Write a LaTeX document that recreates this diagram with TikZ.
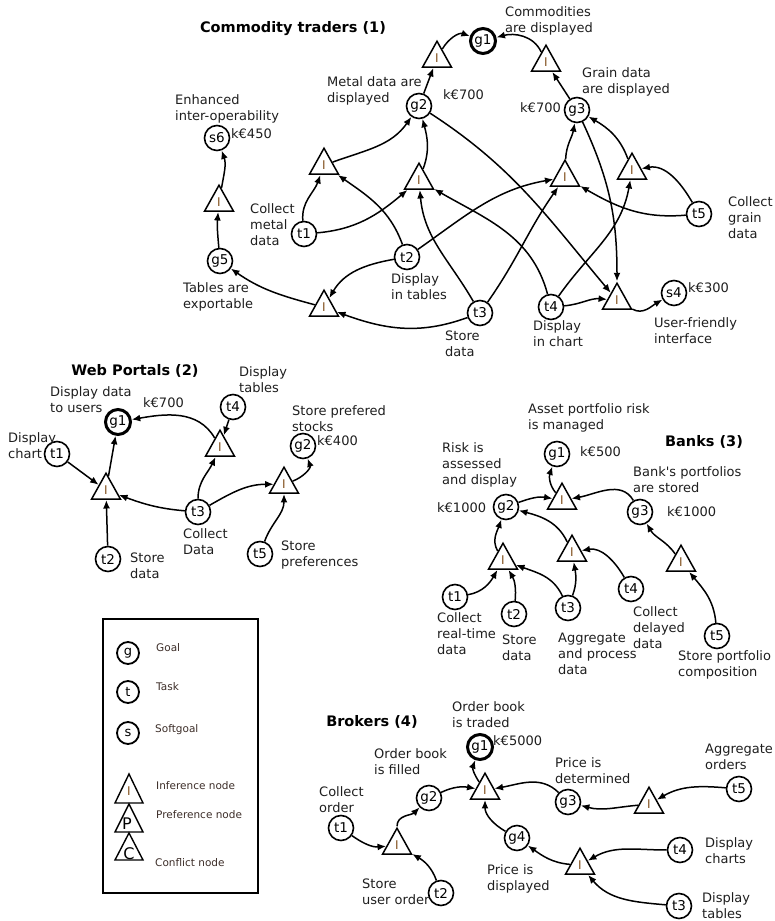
\documentclass[tikz,border=0pt]{standalone}
\usepackage{fontspec}
\setmainfont{DejaVu Sans}
\usetikzlibrary{arrows.meta,shapes.geometric}
\definecolor{inkI}{RGB}{130,80,30}
\definecolor{lbltxt}{RGB}{30,30,30}
\definecolor{legtxt}{RGB}{60,45,40}

\tikzset{
  ent/.style={circle, draw, line width=1.6pt, minimum size=25pt, inner sep=0pt,
    font=\fontsize{13.5}{14}\selectfont},
  mainent/.style={ent, line width=3pt},
  infer/.style={isosceles triangle, shape border rotate=90, isosceles triangle stretches,
    minimum width=29pt, minimum height=26pt, inner sep=0pt, draw, line width=1.5pt,
    font=\fontsize{12}{12}\selectfont, text=inkI, anchor=lower side},
  lbl/.style={anchor=north west, align=left, inner sep=0pt, text=lbltxt,
    font=\fontsize{13}{16}\selectfont},
  cost/.style={anchor=west, inner sep=0pt, text=lbltxt, font=\fontsize{13}{16}\selectfont},
  ttl/.style={inner sep=0pt, font=\fontsize{14.5}{16}\selectfont\bfseries},
  link/.style={line width=1.5pt, -{Latex[length=8.5pt,width=7pt]}},
  legent/.style={circle, draw, line width=1.8pt, minimum size=22pt, inner sep=0pt,
    font=\fontsize{13}{14}\selectfont},
  legtext/.style={anchor=west, inner sep=0pt, text=legtxt, font=\fontsize{10.5}{12}\selectfont},
  legtri/.style={line width=1.4pt, line join=miter},
}

\begin{document}
\begin{tikzpicture}[x=1pt,y=1pt]
\useasboundingbox (0,0) rectangle (774,921);

% ---------------- Commodity traders (1) ----------------
\node[ttl] (ct) at (293,892) {Commodity traders (1)};
\node[mainent] (c-g1) at (483,880) {g1};
\node[infer] (c-ia) at (437,853) {I};
\node[infer] (c-ib) at (546,849) {I};
\node[ent] (c-g2) at (419,815) {g2};
\node[ent] (c-g3) at (577,811) {g3};
\node[ent] (c-s6) at (217,783) {s6};
\node[infer] (c-ic) at (219,709) {I};
\node[ent] (c-g5) at (220,660) {g5};
\node[infer] (c-id) at (324,746) {I};
\node[infer] (c-ie) at (419,731) {I};
\node[infer] (c-if) at (565,734) {I};
\node[infer] (c-ig) at (632,741) {I};
\node[ent] (c-t1) at (304,687) {t1};
\node[ent] (c-t2) at (407,664) {t2};
\node[infer] (c-ih) at (324,604) {I};
\node[ent] (c-t3) at (480,608) {t3};
\node[ent] (c-t4) at (551,614) {t4};
\node[infer] (c-ii) at (617,611) {I};
\node[ent] (c-s4) at (674,628) {s4};
\node[ent] (c-t5) at (699,707) {t5};

\node[lbl] (c-l1) at (505,914.5) {Commodities\\are displayed};
\node[lbl] (c-l2) at (327,844.5) {Metal data are\\displayed};
\node[cost] (c-k2) at (443,826) {k€700};
\node[cost] (c-k3) at (520,813) {k€700};
\node[lbl] (c-l3) at (582,853.5) {Grain data\\are displayed};
\node[lbl] (c-l6) at (175,826.5) {Enhanced\\inter-operability};
\node[cost] (c-k6) at (231,787) {k€450};
\node[lbl] (c-l5) at (183,638.5) {Tables are\\exportable};
\node[lbl] (c-lt1) at (250,717.5) {Collect\\metal\\data};
\node[lbl] (c-lt2) at (391,647.5) {Display\\in tables};
\node[lbl] (c-lt3) at (445,590.5) {Store\\data};
\node[lbl] (c-lt4) at (533,600.5) {Display\\in chart};
\node[cost] (c-k4) at (688,633) {k€300};
\node[lbl] (c-l4) at (654,603.5) {User-friendly\\interface};
\node[lbl] (c-lt5) at (728,724.5) {Collect\\grain\\data};

\draw[link] (c-ia) to[out=60,in=160] (c-g1);
\draw[link] (c-g2) -- (c-ia);
\draw[link] (c-ib) to[out=115,in=15] (c-g1);
\draw[link] (c-g3) -- (c-ib);
\draw[link] (c-id) to[out=20,in=235] (c-g2);
\draw[link] (c-ie) to[out=70,in=-75] (c-g2);
\draw[link] (c-t1) to[out=95,in=-110] (c-id);
\draw[link] (c-t1) to[out=5,in=-140] (c-ie);
\draw[link] (c-t2) to[out=110,in=-35] (c-id);
\draw[link] (c-t2) to[out=35,in=190] (c-if);
\draw[link] (c-t2) to[out=190,in=60] (c-ih);
\draw[link] (c-t3) to[out=200,in=-20] (c-ih);
\draw[link] (c-ih) to[out=165,in=-35] (c-g5);
\draw[link] (c-g5) to[out=95,in=-95] (c-ic);
\draw[link] (c-ic) to[out=80,in=-70] (c-s6);
\draw[link] (c-t3) to[out=120,in=-85] (c-ie);
\draw[link] (c-t3) to[out=55,in=-125] (c-if);
\draw[link] (c-t4) to[out=105,in=-30] (c-ie);
\draw[link] (c-t4) to[out=55,in=-100] (c-ig);
\draw[link] (c-t4) to[out=5,in=175] (c-ii);
\draw[link] (c-ii) to[out=-30,in=210] (c-s4);
\draw[link] (c-g2) to[out=-33,in=130] (c-ii);
\draw[link] (c-g3) to[out=-65,in=90] (c-ii);
\draw[link] (c-if) to[out=88,in=-100] (c-g3);
\draw[link] (c-ig) to[out=110,in=-30] (c-g3);
\draw[link] (c-t5) to[out=120,in=10] (c-ig);
\draw[link] (c-t5) to[out=185,in=-30] (c-if);

% ---------------- Web Portals (2) ----------------
\node[ttl] (wt) at (135,550) {Web Portals (2)};
\node[mainent] (w-g1) at (118,499) {g1};
\node[ent] (w-t1) at (57,467) {t1};
\node[infer] (w-i1) at (106,421) {I};
\node[ent] (w-t2) at (108,362) {t2};
\node[ent] (w-t3) at (198,409) {t3};
\node[infer] (w-i2) at (220,464) {I};
\node[ent] (w-t4) at (233,514) {t4};
\node[infer] (w-i3) at (284,427) {I};
\node[ent] (w-g2) at (303,475) {g2};
\node[ent] (w-t5) at (260,367) {t5};

\node[lbl] (w-l1) at (50,534.5) {Display data\\to users};
\node[cost] (w-k1) at (143,518) {k€700};
\node[lbl] (w-lt1) at (8,488.5) {Display\\chart};
\node[lbl] (w-lt2) at (130,368.5) {Store\\data};
\node[lbl] (w-lt3) at (183,392.5) {Collect\\Data};
\node[lbl] (w-lt4) at (239,554.5) {Display\\tables};
\node[lbl] (w-l2) at (292,515.5) {Store prefered\\stocks};
\node[cost] (w-k2) at (317,480) {k€400};
\node[lbl] (w-lt5) at (281,380.5) {Store\\preferences};

\draw[link] (w-t1) -- (w-i1);
\draw[link] (w-t2) -- (w-i1);
\draw[link] (w-i1) -- (w-g1);
\draw[link] (w-t3) to[out=175,in=-20] (w-i1);
\draw[link] (w-t3) to[out=90,in=-115] (w-i2);
\draw[link] (w-t4) -- (w-i2);
\draw[link] (w-i2) to[out=120,in=10] (w-g1);
\draw[link] (w-t3) to[out=30,in=180] (w-i3);
\draw[link] (w-t5) to[out=70,in=-90] (w-i3);
\draw[link] (w-i3) to[out=20,in=-70] (w-g2);

% ---------------- Banks (3) ----------------
\node[ttl] (bt) at (704,479) {Banks (3)};
\node[ent] (b-g1) at (557,467) {g1};
\node[infer] (b-i1) at (562,411) {I};
\node[ent] (b-g2) at (506,414) {g2};
\node[ent] (b-g3) at (640,409) {g3};
\node[infer] (b-i2) at (503,351) {I};
\node[infer] (b-i3) at (572,359) {I};
\node[infer] (b-i4) at (681,349) {I};
\node[ent] (b-t1) at (455,324) {t1};
\node[ent] (b-t2) at (514,307) {t2};
\node[ent] (b-t3) at (568,313) {t3};
\node[ent] (b-t4) at (631,332) {t4};
\node[ent] (b-t5) at (717,285) {t5};

\node[lbl] (b-l1) at (528,517.5) {Asset portfolio risk\\is managed};
\node[cost] (b-k1) at (580,469) {k€500};
\node[lbl] (b-l2) at (442,478.5) {Risk is\\assessed\\and display};
\node[cost] (b-k2) at (437,413) {k€1000};
\node[lbl] (b-l3) at (633,454.5) {Bank\textquotesingle s portfolios\\are stored};
\node[cost] (b-k3) at (667,409) {k€1000};
\node[lbl] (b-lt1) at (437,308.5) {Collect\\real-time\\data};
\node[lbl] (b-lt2) at (502,286.5) {Store\\data};
\node[lbl] (b-lt3) at (558,288.5) {Aggregate\\and process\\data};
\node[lbl] (b-lt4) at (633,314.5) {Collect\\delayed\\data};
\node[lbl] (b-lt5) at (678,270.5) {Store portfolio\\composition};

\draw[link] (b-i1) to[out=130,in=-110] (b-g1);
\draw[link] (b-g2) to[out=20,in=170] (b-i1);
\draw[link] (b-g3) to[out=120,in=10] (b-i1);
\draw[link] (b-i2) to[out=120,in=-110] (b-g2);
\draw[link] (b-i3) to[out=115,in=-15] (b-g2);
\draw[link] (b-t1) to[out=10,in=-120] (b-i2);
\draw[link] (b-t2) to[out=85,in=-60] (b-i2);
\draw[link] (b-t3) to[out=115,in=-20] (b-i2);
\draw[link] (b-t3) to[out=70,in=-80] (b-i3);
\draw[link] (b-t4) to[out=120,in=10] (b-i3);
\draw[link] (b-t5) to[out=95,in=-50] (b-i4);
\draw[link] (b-i4) to[out=125,in=-60] (b-g3);

% ---------------- Legend ----------------
\draw[line width=1.5pt] (103,28) rectangle (258,302);
\node[legent] (lg-g) at (128,268) {g};
\node[legent] (lg-t) at (128,229) {t};
\node[legent] (lg-s) at (128,188) {s};
\node[legtext] (lg-gt) at (156,273) {Goal};
\node[legtext] (lg-tt) at (156,234) {Task};
\node[legtext] (lg-st) at (155,191) {Softgoal};
\draw[legtri] (115,118) -- (143,118) -- (129,147) -- cycle;
\node[inner sep=0pt, text=inkI, font=\fontsize{12}{12}\selectfont] (lg-il) at (129,130) {I};
\node[legtext] (lg-it) at (156,135) {Inference node};
\draw[legtri] (115,89) -- (143,89) -- (129,117) -- cycle;
\node[inner sep=0pt, font=\fontsize{16}{16}\selectfont] (lg-pl) at (127,97) {P};
\node[legtext] (lg-pt) at (156,106) {Preference node};
\draw[legtri] (115,61) -- (143,61) -- (129,88) -- cycle;
\node[inner sep=0pt, font=\fontsize{16}{16}\selectfont] (lg-cl) at (129,67) {C};
\node[legtext] (lg-ct) at (155,58) {Conflict node};

% ---------------- Brokers (4) ----------------
\node[ttl] (kt) at (372,199) {Brokers (4)};
\node[mainent] (k-g1) at (480,174) {g1};
\node[infer] (k-i1) at (485,121) {I};
\node[ent] (k-g2) at (429,123) {g2};
\node[ent] (k-g3) at (568,119) {g3};
\node[ent] (k-g4) at (517,83) {g4};
\node[ent] (k-t1) at (341,93) {t1};
\node[infer] (k-i2) at (397,66) {I};
\node[ent] (k-t2) at (441,28) {t2};
\node[infer] (k-i3) at (649,107) {I};
\node[ent] (k-t5) at (739,132) {t5};
\node[infer] (k-i4) at (580,46) {I};
\node[ent] (k-t4) at (680,71) {t4};
\node[ent] (k-t3) at (679,15) {t3};

\node[lbl] (k-l1) at (452,219.5) {Order book\\is traded};
\node[cost] (k-k1) at (493,180) {k€5000};
\node[lbl] (k-l2) at (374,172.5) {Order book\\is filled};
\node[lbl] (k-l3) at (555,163.5) {Price is\\determined};
\node[lbl] (k-l4) at (487,56.5) {Price is\\displayed};
\node[lbl] (k-lt1) at (319,134.5) {Collect\\order};
\node[lbl] (k-lt2) at (362,42.5) {Store\\user order};
\node[lbl] (k-lt5) at (705,177.5) {Aggregate\\orders};
\node[lbl] (k-lt4) at (705,83.5) {Display\\charts};
\node[lbl] (k-lt3) at (702,28.5) {Display\\tables};

\draw[link] (k-i1) to[out=125,in=-110] (k-g1);
\draw[link] (k-g2) to[out=25,in=170] (k-i1);
\draw[link] (k-g3) to[out=135,in=10] (k-i1);
\draw[link] (k-g4) to[out=150,in=-90] (k-i1);
\draw[link] (k-t1) to[out=-35,in=185] (k-i2);
\draw[link] (k-t2) to[out=110,in=-30] (k-i2);
\draw[link] (k-i2) to[out=90,in=-135] (k-g2);
\draw[link] (k-t5) to[out=175,in=30] (k-i3);
\draw[link] (k-i3) to[out=185,in=-15] (k-g3);
\draw[link] (k-t4) to[out=180,in=30] (k-i4);
\draw[link] (k-t3) to[out=175,in=-50] (k-i4);
\draw[link] (k-i4) to[out=175,in=-35] (k-g4);
\end{tikzpicture}
\end{document}
